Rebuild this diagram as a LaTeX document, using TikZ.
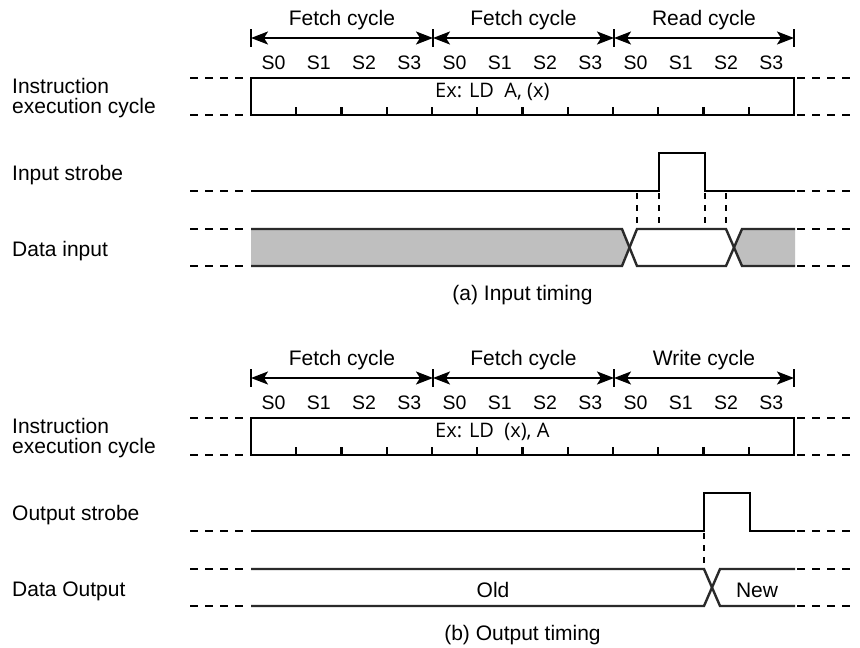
\documentclass[tikz,border=0pt]{standalone}
\usepackage{fontspec}
\setmainfont{Liberation Sans}
\newfontfamily\exfont{Open Sans}
\usetikzlibrary{arrows.meta}
\definecolor{fillgray}{HTML}{BFBFBF}
\definecolor{dline}{HTML}{2A2A2A}
\tikzset{
  sig/.style={line width=2.4pt, line join=miter},
  dsig/.style={line width=2.4pt, draw=dline, line join=miter},
  dsh/.style={line width=2.4pt, dash pattern=on 8pt off 7pt},
  vdsh/.style={line width=1.8pt, dash pattern=on 6pt off 6pt},
  lbl/.style={anchor=base west, font=\fontsize{21}{21}\selectfont, inner sep=0pt},
  cyc/.style={anchor=base, font=\fontsize{21}{21}\selectfont, inner sep=0pt},
  stl/.style={anchor=base, font=\fontsize{19.5}{19.5}\selectfont, inner sep=0pt},
  extxt/.style={anchor=base west, font=\exfont\fontsize{20}{20}\selectfont, inner sep=0pt},
  brk/.style={line width=2pt, {Stealth[length=17pt,width=13pt,inset=4pt]}-{Stealth[length=17pt,width=13pt,inset=4pt]}},
  bar/.style={line width=1.8pt},
}
\newcommand\commonpanel[6]{%
  % #1 prefix, #2 third cycle, #3 ex text, #4 strobe label, #5 data label, #6 caption
  \foreach \k/\xx in {0/251,1/433,2/614,3/794} {
    \coordinate (#1b\k) at (\xx,38);
    \draw[bar] (\xx,29) -- (\xx,47);
  }
  \draw[brk] (#1b0) -- (#1b1);
  \draw[brk] (#1b1) -- (#1b2);
  \draw[brk] (#1b2) -- (#1b3);
  \node[cyc] (#1c1) at (342,25) {Fetch cycle};
  \node[cyc] (#1c2) at (523.5,25) {Fetch cycle};
  \node[cyc] (#1c3) at (704,25) {#2};
  \foreach \k in {0,...,11} {
    \pgfmathtruncatemacro\s{mod(\k,4)}
    \node[stl] (#1s\k) at ({251+45.25*(\k+0.5)},69) {S\s};
  }
  \draw[sig] (251,78) rectangle (794,115);
  \foreach \k in {1,...,11} \draw[sig] ({251+45.25*\k},107) -- ++(0,8);
  \node[extxt] (#1ex) at (435,97) {#3};
  \foreach \yy in {78,115,191,229,266} {
    \draw[dsh] (190,\yy) -- (247,\yy);
    \draw[dsh] (797,\yy) -- (855,\yy);
  }
  \node[lbl] (#1l1) at (12,93) {Instruction};
  \node[lbl] (#1l2) at (12,113) {execution cycle};
  \node[lbl] (#1l3) at (12,180) {#4};
  \node[lbl] (#1l4) at (12,256) {#5};
  \node[cyc] (#1cap) at (522.5,300) {#6};
}
\begin{document}
\begin{tikzpicture}[x=1pt,y=-1pt]
  \useasboundingbox (0,0) rectangle (860,648);
  \fill[white] (0,0) rectangle (860,648);
  % ---------- (a) Input timing ----------
  \begin{scope}
    \fill[fillgray] (251,229) -- (622,229) -- (629.5,247.5) -- (622,266) -- (251,266) -- cycle;
    \fill[fillgray] (734,247.5) -- (742,229) -- (795,229) -- (795,266) -- (742,266) -- cycle;
    \draw[dsig] (251,229) -- (622,229) -- (637,266) -- (726,266) -- (742,229) -- (795,229);
    \draw[dsig] (251,266) -- (622,266) -- (637,229) -- (726,229) -- (742,266) -- (795,266);
    \draw[sig] (251,191) -- (659,191) -- (659,153) -- (705,153) -- (705,191) -- (795,191);
    \foreach \xx in {637,659,705,726} \draw[vdsh] (\xx,193) -- (\xx,228);
    \commonpanel{a}{Read cycle}{Ex: LD\ \ A, (x)}{Input strobe}{Data input}{(a) Input timing}
  \end{scope}
  % ---------- (b) Output timing ----------
  \begin{scope}[shift={(0,340)}]
    \draw[dsig] (251,229) -- (704,229) -- (720,266) -- (795,266);
    \draw[dsig] (251,266) -- (704,266) -- (720,229) -- (795,229);
    \draw[sig] (251,191) -- (704,191) -- (704,153) -- (750,153) -- (750,191) -- (795,191);
    \draw[vdsh] (704,193) -- (704,228);
    \node[cyc] (old) at (493,257) {Old};
    \node[cyc] (new) at (757,257) {New};
    \commonpanel{b}{Write cycle}{Ex: LD\ \ (x), A}{Output strobe}{Data Output}{(b) Output timing}
  \end{scope}
\end{tikzpicture}
\end{document}
